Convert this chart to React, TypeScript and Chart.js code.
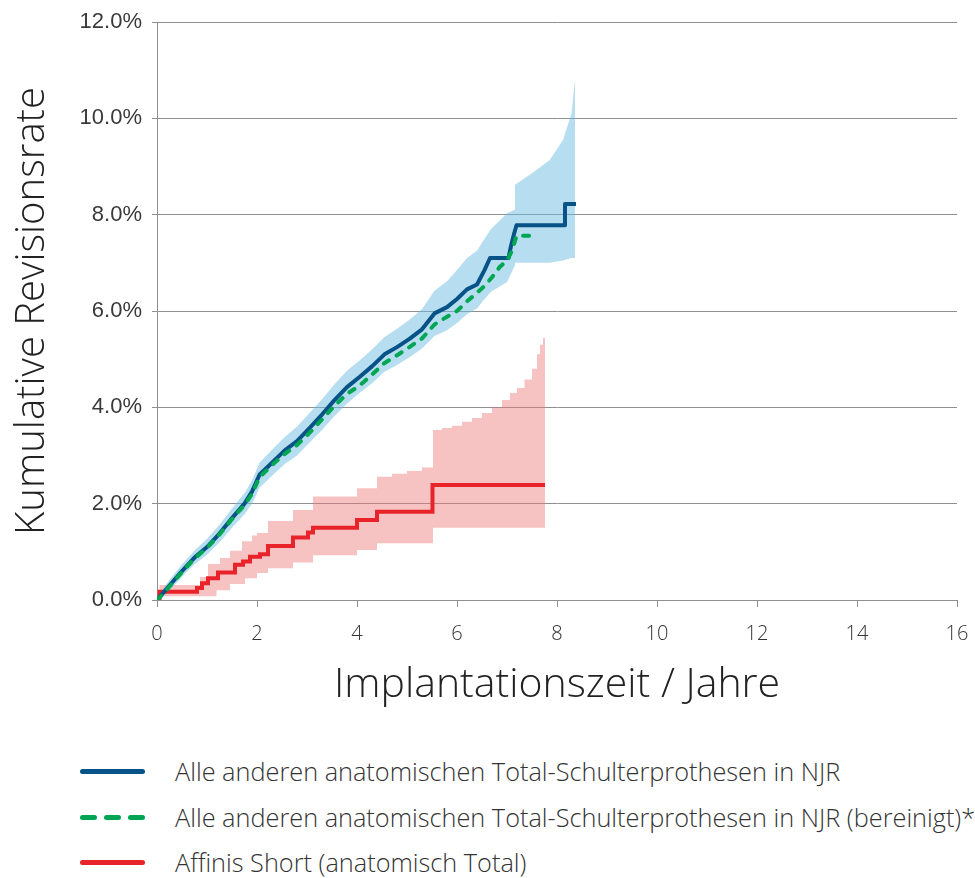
import React, { useEffect, useRef } from "react";
import { Chart, registerables } from "chart.js";

Chart.register(...registerables);

// NJR – all other anatomic total shoulder (years, cumulative revision %)
const njrT = [0, 0.1, 0.25, 0.5, 0.75, 1.0, 1.25, 1.5, 1.75, 1.9, 2.05, 2.3, 2.55, 2.8, 3.05, 3.3, 3.55, 3.8, 4.05, 4.3, 4.55, 4.8, 5.05, 5.3, 5.55, 5.8, 6.0, 6.2, 6.4, 6.55, 6.66, 7.03, 7.08, 7.14, 7.19, 8.16, 8.16, 8.38];
const njrV = [0, 0.12, 0.3, 0.6, 0.88, 1.1, 1.38, 1.7, 2.0, 2.25, 2.6, 2.85, 3.1, 3.3, 3.57, 3.85, 4.15, 4.42, 4.63, 4.85, 5.1, 5.25, 5.42, 5.62, 5.95, 6.08, 6.25, 6.45, 6.55, 6.85, 7.1, 7.1, 7.35, 7.6, 7.78, 7.78, 8.22, 8.22];

// NJR adjusted (bereinigt)
const adjT = [0, 0.1, 0.25, 0.5, 0.75, 1.0, 1.25, 1.5, 1.75, 1.9, 2.05, 2.3, 2.55, 2.8, 3.05, 3.3, 3.55, 3.8, 4.05, 4.3, 4.55, 4.8, 5.05, 5.3, 5.55, 5.8, 6.0, 6.2, 6.4, 6.55, 6.7, 6.86, 7.0, 7.1, 7.19, 7.62];
const adjV = [0, 0.1, 0.28, 0.58, 0.86, 1.08, 1.36, 1.68, 1.97, 2.2, 2.55, 2.8, 3.03, 3.22, 3.47, 3.75, 4.03, 4.28, 4.45, 4.68, 4.92, 5.08, 5.25, 5.43, 5.72, 5.88, 6.0, 6.2, 6.38, 6.52, 6.7, 6.92, 7.05, 7.25, 7.56, 7.56];

// NJR confidence band
const njrBandT = [0, 0.1, 0.25, 0.5, 0.75, 1.0, 1.25, 1.5, 1.75, 1.9, 2.05, 2.3, 2.55, 2.8, 3.05, 3.3, 3.55, 3.8, 4.05, 4.3, 4.55, 4.8, 5.05, 5.3, 5.55, 5.8, 6.0, 6.2, 6.4, 6.55, 6.68, 7.0, 7.16, 7.16, 7.5, 7.85, 8.12, 8.29, 8.36];
const njrBandLow = [0, 0.05, 0.2, 0.48, 0.74, 0.94, 1.2, 1.5, 1.78, 2.0, 2.33, 2.58, 2.82, 3.0, 3.27, 3.53, 3.82, 4.08, 4.3, 4.5, 4.74, 4.88, 5.04, 5.22, 5.48, 5.6, 5.75, 5.93, 6.05, 6.25, 6.4, 6.6, 6.95, 7.0, 7.0, 7.0, 7.05, 7.1, 7.1];
const njrBandHigh = [0, 0.2, 0.42, 0.74, 1.03, 1.27, 1.56, 1.9, 2.22, 2.48, 2.85, 3.12, 3.38, 3.6, 3.88, 4.17, 4.48, 4.76, 4.97, 5.2, 5.46, 5.63, 5.82, 6.04, 6.42, 6.62, 6.85, 7.1, 7.25, 7.5, 7.7, 8.03, 8.1, 8.62, 8.86, 9.13, 9.55, 10.1, 10.8];

// Affinis Short (anatomic total) – step function
const affT = [0, 0.05, 0.8, 0.9, 1.02, 1.22, 1.56, 1.72, 1.86, 2.06, 2.22, 2.72, 3.02, 3.12, 4.0, 4.4, 5.51, 7.76];
const affV = [0, 0.17, 0.25, 0.35, 0.45, 0.57, 0.73, 0.8, 0.9, 0.95, 1.12, 1.3, 1.4, 1.5, 1.66, 1.83, 2.39, 2.39];

// Affinis confidence band – step function
const affBandT = [0, 0.05, 0.86, 1.02, 1.19, 1.26, 1.46, 1.7, 1.76, 1.9, 2.0, 2.22, 2.72, 3.12, 4.0, 4.4, 4.7, 5.0, 5.3, 5.52, 5.7, 5.9, 6.1, 6.3, 6.5, 6.7, 6.9, 7.06, 7.2, 7.35, 7.5, 7.6, 7.66, 7.72, 7.76];
const affBandHigh = [0, 0.31, 0.48, 0.75, 0.75, 0.87, 1.02, 1.22, 1.22, 1.34, 1.39, 1.64, 1.87, 2.15, 2.32, 2.56, 2.62, 2.68, 2.75, 3.53, 3.57, 3.62, 3.7, 3.78, 3.88, 4.0, 4.15, 4.3, 4.4, 4.58, 4.8, 5.1, 5.3, 5.44, 5.5];
const affBandLow = [0, 0.08, 0.08, 0.08, 0.2, 0.2, 0.33, 0.33, 0.45, 0.45, 0.56, 0.66, 0.78, 0.93, 1.04, 1.18, 1.18, 1.18, 1.18, 1.5, 1.5, 1.5, 1.5, 1.5, 1.5, 1.5, 1.5, 1.5, 1.5, 1.5, 1.5, 1.5, 1.5, 1.5, 1.5];

const xTicks = [0, 2, 4, 6, 8, 10, 12, 14, 16];
const yTicks = [0, 2, 4, 6, 8, 10, 12];

const legendLabels = [
  "Alle anderen anatomischen Total-Schulterprothesen in NJR",
  "Alle anderen anatomischen Total-Schulterprothesen in NJR (bereinigt)*",
  "Affinis Short (anatomisch Total)",
];

const BLUE = "#075286";
const GREEN = "#00a651";
const RED = "#e8232a";
const GRID = "#8f8f8f";

const pts = (xs: number[], ys: number[]) => xs.map((x, i) => ({ x, y: ys[i] }));

export default function App() {
  const ref = useRef<HTMLCanvasElement | null>(null);

  useEffect(() => {
    document.documentElement.style.overflow = "hidden";
    document.body.style.margin = "0";
    if (!ref.current) return;
    const chart = new Chart(ref.current, {
      type: "line",
      data: {
        datasets: [
          {
            label: legendLabels[0],
            data: pts(njrT, njrV),
            borderColor: BLUE,
            borderWidth: 4,
            borderJoinStyle: "round",
            pointRadius: 0,
            fill: false,
            order: 1,
          },
          {
            label: legendLabels[1],
            data: pts(adjT, adjV),
            borderColor: GREEN,
            borderWidth: 4,
            borderDash: [6, 9],
            borderCapStyle: "round",
            pointRadius: 0,
            fill: false,
            order: 0,
          },
          {
            label: legendLabels[2],
            data: pts(affT, affV),
            borderColor: RED,
            borderWidth: 4,
            stepped: true,
            pointRadius: 0,
            fill: false,
            order: 2,
          },
          {
            label: "njrHigh",
            data: pts(njrBandT, njrBandHigh),
            borderWidth: 0,
            borderColor: "rgba(0,0,0,0)",
            backgroundColor: "rgba(110,190,225,0.5)",
            pointRadius: 0,
            fill: "+1",
            order: 10,
          },
          {
            label: "njrLow",
            data: pts(njrBandT, njrBandLow),
            borderWidth: 0,
            borderColor: "rgba(0,0,0,0)",
            pointRadius: 0,
            fill: false,
            order: 11,
          },
          {
            label: "affHigh",
            data: pts(affBandT, affBandHigh),
            borderWidth: 0,
            borderColor: "rgba(0,0,0,0)",
            backgroundColor: "rgba(238,120,120,0.45)",
            stepped: true,
            pointRadius: 0,
            fill: "+1",
            order: 12,
          },
          {
            label: "affLow",
            data: pts(affBandT, affBandLow),
            borderWidth: 0,
            borderColor: "rgba(0,0,0,0)",
            stepped: true,
            pointRadius: 0,
            fill: false,
            order: 13,
          },
        ],
      },
      options: {
        animation: false,
        responsive: false,
        devicePixelRatio: 1,
        layout: { padding: { left: 0, right: 18, top: 14, bottom: 0 } },
        plugins: {
          legend: { display: false },
          tooltip: { enabled: false },
        },
        scales: {
          x: {
            type: "linear",
            min: 0,
            max: 16,
            afterBuildTicks: (scale: any) => {
              scale.ticks = xTicks.map((v) => ({ value: v }));
            },
            ticks: {
              font: { family: "'Open Sans'", size: 20, weight: "300" },
              color: "#333333",
              padding: 15,
              maxRotation: 0,
            },
            grid: {
              drawOnChartArea: false,
              drawTicks: true,
              tickLength: 7,
              color: GRID,
            },
            border: { display: true, color: GRID, width: 1 },
            title: {
              display: true,
              text: "Implantationszeit / Jahre",
              font: { family: "'Open Sans'", size: 41, weight: "300" },
              color: "#222222",
              padding: { top: 0, bottom: 18 },
            },
            afterFit: (scale: any) => {
              scale.height = 128;
              scale.paddingLeft = 0;
              scale.paddingRight = 0;
            },
          },
          y: {
            type: "linear",
            min: 0,
            max: 12,
            afterBuildTicks: (scale: any) => {
              scale.ticks = yTicks.map((v) => ({ value: v }));
            },
            ticks: {
              font: { family: "'Liberation Sans'", size: 22 },
              color: "#3a3a3a",
              padding: 10,
              callback: (v: any) => Number(v).toFixed(1) + "%",
            },
            grid: {
              drawOnChartArea: true,
              drawTicks: true,
              tickLength: 5,
              color: GRID,
            },
            border: { display: true, color: GRID, width: 1 },
            title: {
              display: true,
              text: "Kumulative Revisionsrate",
              font: { family: "'Open Sans'", size: 40, weight: "300" },
              color: "#222222",
              padding: { top: 1, bottom: 0 },
            },
            afterFit: (scale: any) => {
              scale.width = 149;
              scale.paddingTop = 0;
              scale.paddingBottom = 0;
            },
          },
        },
      },
    });
    return () => chart.destroy();
  }, []);

  const textStyle: React.CSSProperties = {
    fontFamily: "'Open Sans', sans-serif",
    fontWeight: 300,
    fontSize: 25.3,
    lineHeight: "30px",
    color: "#333333",
    marginLeft: 30,
    whiteSpace: "nowrap",
  };
  const row = (top: number): React.CSSProperties => ({
    position: "absolute",
    left: 8,
    top,
    display: "flex",
    alignItems: "center",
    height: 30,
  });
  const solid = (c: string) => (
    <div style={{ marginLeft: 72, width: 65, height: 5, borderRadius: 3, background: c, flex: "none" }} />
  );

  return (
    <div style={{ width: 975, height: 878, position: "relative", overflow: "hidden" }}>
      <canvas
        ref={ref}
        width={967}
        height={720}
        style={{ display: "block", position: "absolute", left: 8, top: 8, width: 967, height: 720 }}
      />
      <div style={row(756)}>
        {solid(BLUE)}
        <span style={textStyle}>{legendLabels[0]}</span>
      </div>
      <div style={row(802)}>
        <div style={{ marginLeft: 72, width: 65, flex: "none", display: "flex", justifyContent: "space-between" }}>
          <div style={{ width: 17, height: 5, borderRadius: 3, background: GREEN }} />
          <div style={{ width: 17, height: 5, borderRadius: 3, background: GREEN }} />
          <div style={{ width: 17, height: 5, borderRadius: 3, background: GREEN }} />
        </div>
        <span style={textStyle}>{legendLabels[1]}</span>
      </div>
      <div style={row(847)}>
        {solid(RED)}
        <span style={textStyle}>{legendLabels[2]}</span>
      </div>
    </div>
  );
}
